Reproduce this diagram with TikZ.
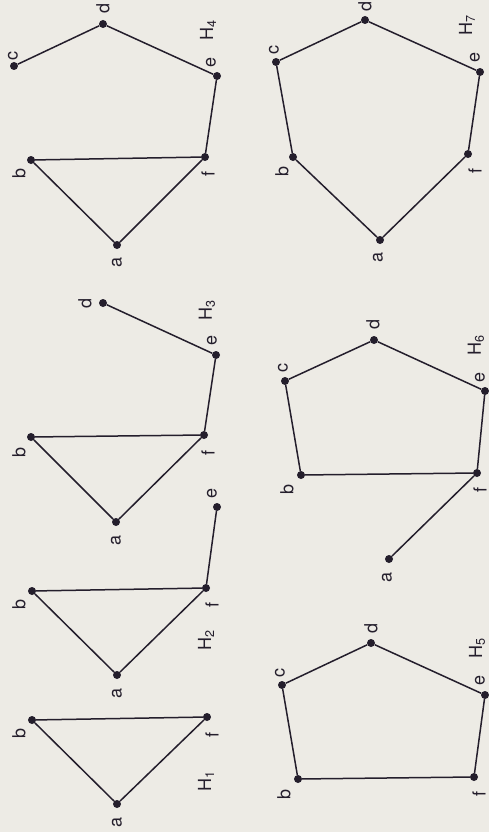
\documentclass[tikz,border=0pt]{standalone}
\usepackage{fontspec}
\setmainfont{TeX Gyre Heros}
\definecolor{paper}{RGB}{237,235,229}
\definecolor{ink}{RGB}{36,30,44}
\begin{document}
\begin{tikzpicture}[x=1pt,y=-1pt,
  dot/.style={circle,fill=ink,inner sep=0pt,minimum size=8pt},
  lbl/.style={rotate=90,inner sep=0pt,text=ink,font=\fontsize{18}{20}\selectfont},
  edge/.style={draw=ink,line width=1.5pt}]
\fill[paper] (0,0) rectangle (489,832);
\useasboundingbox (0,0) rectangle (489,832);

% ---------- H1 ----------
\node[dot] (h1a) at (117,804) {};
\node[dot] (h1b) at (32,720) {};
\node[dot] (h1f) at (207,717) {};
\node[lbl] (h1al) at (117,822) {a};
\node[lbl] (h1bl) at (19,733) {b};
\node[lbl] (h1fl) at (212,735) {f};
\node[lbl] (h1H) at (206,781) {H\textsubscript{1}};
\draw[edge] (h1a) -- (h1b) -- (h1f) -- (h1a);

% ---------- H2 ----------
\node[dot] (h2a) at (117,675) {};
\node[dot] (h2b) at (32,591) {};
\node[dot] (h2f) at (206,588) {};
\node[dot] (h2e) at (217,507) {};
\node[lbl] (h2al) at (117,693) {a};
\node[lbl] (h2bl) at (19,604) {b};
\node[lbl] (h2fl) at (212,605) {f};
\node[lbl] (h2el) at (212,493) {e};
\node[lbl] (h2H) at (206,640) {H\textsubscript{2}};
\draw[edge] (h2a) -- (h2b) -- (h2f) -- (h2a);
\draw[edge] (h2f) -- (h2e);

% ---------- H3 ----------
\node[dot] (h3a) at (116,522) {};
\node[dot] (h3b) at (31,437) {};
\node[dot] (h3f) at (204,435) {};
\node[dot] (h3e) at (216,355) {};
\node[dot] (h3d) at (103,303) {};
\node[lbl] (h3al) at (116,540) {a};
\node[lbl] (h3bl) at (19,452) {b};
\node[lbl] (h3fl) at (208,453) {f};
\node[lbl] (h3el) at (212,340) {e};
\node[lbl] (h3dl) at (85,303) {d};
\node[lbl] (h3H) at (207,310) {H\textsubscript{3}};
\draw[edge] (h3a) -- (h3b) -- (h3f) -- (h3a);
\draw[edge] (h3f) -- (h3e) -- (h3d);

% ---------- H4 ----------
\node[dot] (h4a) at (117,245) {};
\node[dot] (h4b) at (31,160) {};
\node[dot] (h4f) at (205,157) {};
\node[dot] (h4e) at (217,76) {};
\node[dot] (h4d) at (103,24) {};
\node[dot] (h4c) at (14,66) {};
\node[lbl] (h4al) at (117,262) {a};
\node[lbl] (h4bl) at (19,173) {b};
\node[lbl] (h4fl) at (208,174) {f};
\node[lbl] (h4el) at (211,62) {e};
\node[lbl] (h4dl) at (103,8) {d};
\node[lbl] (h4cl) at (13,56) {c};
\node[lbl] (h4H) at (208,30) {H\textsubscript{4}};
\draw[edge] (h4a) -- (h4b) -- (h4f) -- (h4a);
\draw[edge] (h4f) -- (h4e) -- (h4d) -- (h4c);

% ---------- H5 ----------
\node[dot] (h5d) at (371,643) {};
\node[dot] (h5c) at (282,685) {};
\node[dot] (h5b) at (298,779) {};
\node[dot] (h5f) at (474,777) {};
\node[dot] (h5e) at (485,695) {};
\node[lbl] (h5dl) at (371,628) {d};
\node[lbl] (h5cl) at (280,673) {c};
\node[lbl] (h5bl) at (284,794) {b};
\node[lbl] (h5fl) at (479,794) {f};
\node[lbl] (h5el) at (480,680) {e};
\node[lbl] (h5H) at (477,648) {H\textsubscript{5}};
\draw[edge] (h5b) -- (h5c) -- (h5d) -- (h5e) -- (h5f) -- (h5b);

% ---------- H6 ----------
\node[dot] (h6d) at (374,340) {};
\node[dot] (h6c) at (285,381) {};
\node[dot] (h6b) at (301,475) {};
\node[dot] (h6f) at (477,473) {};
\node[dot] (h6e) at (485,391) {};
\node[dot] (h6a) at (389,559) {};
\node[lbl] (h6dl) at (373,324) {d};
\node[lbl] (h6cl) at (283,368) {c};
\node[lbl] (h6bl) at (287,489) {b};
\node[lbl] (h6fl) at (480,490) {f};
\node[lbl] (h6el) at (480,377) {e};
\node[lbl] (h6al) at (387,577) {a};
\node[lbl] (h6H) at (476,345) {H\textsubscript{6}};
\draw[edge] (h6b) -- (h6c) -- (h6d) -- (h6e) -- (h6f) -- (h6b);
\draw[edge] (h6f) -- (h6a);

% ---------- H7 ----------
\node[dot] (h7d) at (365,20) {};
\node[dot] (h7c) at (276,62) {};
\node[dot] (h7b) at (293,157) {};
\node[dot] (h7a) at (380,240) {};
\node[dot] (h7f) at (468,154) {};
\node[dot] (h7e) at (480,72) {};
\node[lbl] (h7dl) at (365,6) {d};
\node[lbl] (h7cl) at (274,50) {c};
\node[lbl] (h7bl) at (282,171) {b};
\node[lbl] (h7al) at (378,257) {a};
\node[lbl] (h7fl) at (475,171) {f};
\node[lbl] (h7el) at (475,57) {e};
\node[lbl] (h7H) at (467,25) {H\textsubscript{7}};
\draw[edge] (h7a) -- (h7b) -- (h7c) -- (h7d) -- (h7e) -- (h7f) -- (h7a);
\end{tikzpicture}
\end{document}
